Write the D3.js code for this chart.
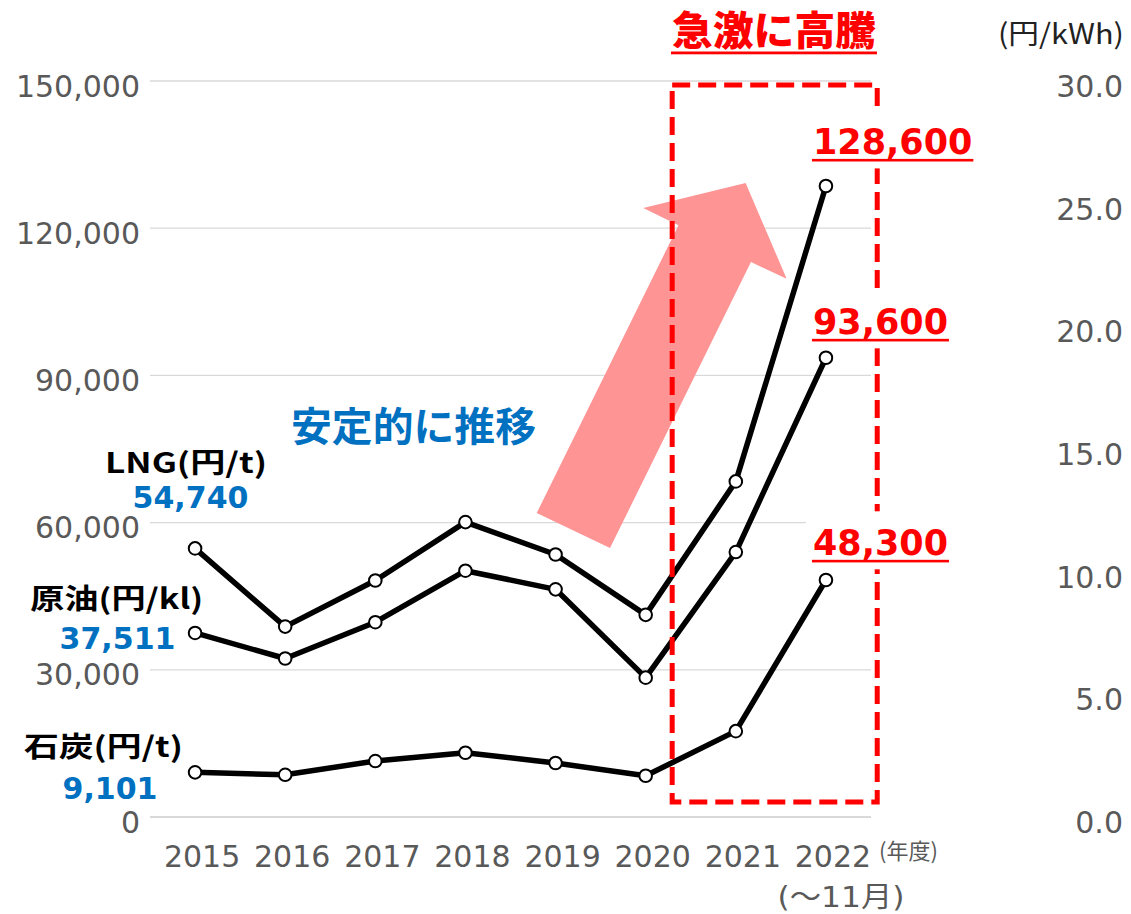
<!DOCTYPE html>
<html><head><meta charset="utf-8">
<script src="https://cdn.jsdelivr.net/npm/d3@7"></script>
<style>body{margin:0;background:#fff}svg{display:block}</style>
</head><body>
<svg id="c" width="1131" height="914"></svg>
<script>
// ---- data ----
const years = ["2015","2016","2017","2018","2019","2020","2021","2022"];
const lng  = [54740, 38800, 48200, 60100, 53500, 41200, 68400, 128600];
const oil  = [37511, 32300, 39700, 50200, 46400, 28400, 54000, 93600];
const coal = [9101, 8600, 11400, 13100, 11000, 8400, 17500, 48300];
const leftTicks  = [0, 30000, 60000, 90000, 120000, 150000];
const rightTicks = [0, 5, 10, 15, 20, 25, 30];
const seriesNames = ["LNG(円/t)", "原油(円/kl)", "石炭(円/t)"];
const startLabels = ["54,740", "37,511", "9,101"];
const endLabels   = ["128,600", "93,600", "48,300"];

// ---- layout ----
const svg = d3.select("#c");
svg.append("rect").attr("width",1131).attr("height",914).attr("fill","#fff");
const x = d3.scaleBand().domain(years).range([150, 871]).padding(0);
const cx = d => x(d) + x.bandwidth()/2;
const y  = d3.scaleLinear().domain([0,150000]).range([817,81]);
const yR = d3.scaleLinear().domain([0,30]).range([817,81]);
const xi = d3.scaleLinear().domain([0,7]).range([cx(years[0]), cx(years[7])]);
const series = [lng, oil, coal];

// gridlines
svg.append("g").selectAll("line").data(leftTicks).join("line")
  .attr("x1",150).attr("x2",871)
  .attr("y1",d=>y(d)).attr("y2",d=>y(d))
  .attr("stroke","#d9d9d9").attr("stroke-width",d=>d===0?2:1.3);

// left axis
const gL = svg.append("g").attr("transform","translate(140,0)")
  .call(d3.axisLeft(y).tickValues(leftTicks).tickFormat(d3.format(",")).tickSize(0).tickPadding(0));
gL.select(".domain").remove();
gL.selectAll("text").attr("x",0).attr("dy",15)
  .attr("font-family","DejaVu Sans").attr("font-size",30).attr("fill","#595959");

// right axis
const gR = svg.append("g").attr("transform","translate(1123,0)")
  .call(d3.axisRight(yR).tickValues(rightTicks).tickFormat(d3.format(".1f")).tickSize(0).tickPadding(0));
gR.select(".domain").remove();
gR.selectAll("text").attr("x",0).attr("dy",15.5).attr("text-anchor","end")
  .attr("font-family","DejaVu Sans").attr("font-size",30).attr("fill","#595959");

// bottom axis
const gB = svg.append("g").attr("transform","translate(0,817)")
  .call(d3.axisBottom(x).tickSize(0).tickPadding(0));
gB.select(".domain").remove();
gB.selectAll("text").attr("x",7).attr("y",50).attr("dy",0)
  .attr("font-family","DejaVu Sans").attr("font-size",30).attr("fill","#595959");

svg.append("text").attr("x",879).attr("y",859)
  .attr("font-family","Noto Sans CJK JP").attr("font-size",22).attr("fill","#595959")
  .text("(年度)");
svg.append("text").attr("x",841).attr("y",907).attr("text-anchor","middle")
  .attr("font-family","DejaVu Sans, Noto Sans CJK JP").attr("font-size",28).attr("fill","#595959")
  .attr("textLength",127).attr("lengthAdjust","spacingAndGlyphs")
  .text("(～11月)");
svg.append("text").attr("x",1124).attr("y",44).attr("text-anchor","end")
  .attr("font-family","Noto Sans CJK JP").attr("font-size",28).attr("fill","#222")
  .attr("textLength",126).attr("lengthAdjust","spacingAndGlyphs")
  .text("(円/kWh)");

// arrow annotation (index, value)
const arrowPts = [[3.791,61950],[5.364,120600],[4.973,124100],[6.109,129200],[6.564,109700],[6.168,113100],[4.604,54800]];
svg.append("path")
  .attr("d", d3.line().x(d=>xi(d[0])).y(d=>y(d[1]))(arrowPts) + "Z")
  .attr("fill","#ff9494");

// lines
const line = d3.line().x((d,i)=>cx(years[i])).y(d=>y(d));
series.forEach(s=>{
  svg.append("path").attr("d",line(s)).attr("fill","none")
    .attr("stroke","#000").attr("stroke-width",5.5).attr("stroke-linejoin","round");
});
series.forEach(s=>{
  svg.append("g").selectAll("circle").data(s).join("circle")
    .attr("cx",(d,i)=>cx(years[i])).attr("cy",d=>y(d)).attr("r",6.3)
    .attr("fill","#fff").attr("stroke","#000").attr("stroke-width",2);
});

// dashed box
const box = {i0:5.294, i1:7.569, v0:3060, v1:149200};
svg.append("rect")
  .attr("x",xi(box.i0)).attr("y",y(box.v1))
  .attr("width",xi(box.i1)-xi(box.i0)).attr("height",y(box.v0)-y(box.v1))
  .attr("fill","none").attr("stroke","#ff0000").attr("stroke-width",5)
  .attr("stroke-dasharray","18,8");

// end labels
const endOffsets = [-31.6, -23.4, -24.7];
series.forEach((s,k)=>{
  const px = cx(years[7]) - 13, by = y(s[7]) + endOffsets[k];
  const t = svg.append("text").attr("x",px).attr("y",by)
    .attr("font-family","DejaVu Sans").attr("font-weight","bold").attr("font-size",35)
    .attr("fill","#ff0000").text(endLabels[k]);
  const w = t.node().getComputedTextLength();
  svg.insert("rect", function(){return t.node();})
    .attr("x",px-7).attr("y",by-44).attr("width",w+12).attr("height",58).attr("fill","#fff");
  svg.append("rect").attr("x",px-1).attr("y",by+4.5).attr("width",w+2).attr("height",2.6).attr("fill","#ff0000");
});

// start labels
const nameLayout = [[186,473,162],[116.7,609,173],[103.4,757,159]];
const valLayout  = [[190.5,508],[117.5,649],[110,799]];
seriesNames.forEach((n,k)=>{
  svg.append("text").attr("x",nameLayout[k][0]).attr("y",nameLayout[k][1]).attr("text-anchor","middle")
    .attr("font-family","Noto Sans CJK JP").attr("font-weight","bold").attr("font-size",28).attr("fill","#000")
    .attr("textLength",nameLayout[k][2]).attr("lengthAdjust","spacingAndGlyphs").text(n);
  svg.append("text").attr("x",valLayout[k][0]).attr("y",valLayout[k][1]).attr("text-anchor","middle")
    .attr("font-family","DejaVu Sans").attr("font-weight","bold").attr("font-size",30).attr("fill","#0070c0")
    .text(startLabels[k]);
});

// annotations
svg.append("text").attr("x",291).attr("y",441)
  .attr("font-family","Noto Sans CJK JP").attr("font-weight","bold").attr("font-size",40).attr("fill","#0070c0")
  .attr("textLength",245).attr("lengthAdjust","spacingAndGlyphs").text("安定的に推移");
svg.append("text").attr("x",672).attr("y",45)
  .attr("font-family","Noto Sans CJK JP").attr("font-weight","900").attr("font-size",40).attr("fill","#ff0000")
  .attr("textLength",204).attr("lengthAdjust","spacingAndGlyphs").text("急激に高騰");
svg.append("rect").attr("x",671).attr("y",51.5).attr("width",206).attr("height",2.8).attr("fill","#ff0000");
</script>
</body></html>
